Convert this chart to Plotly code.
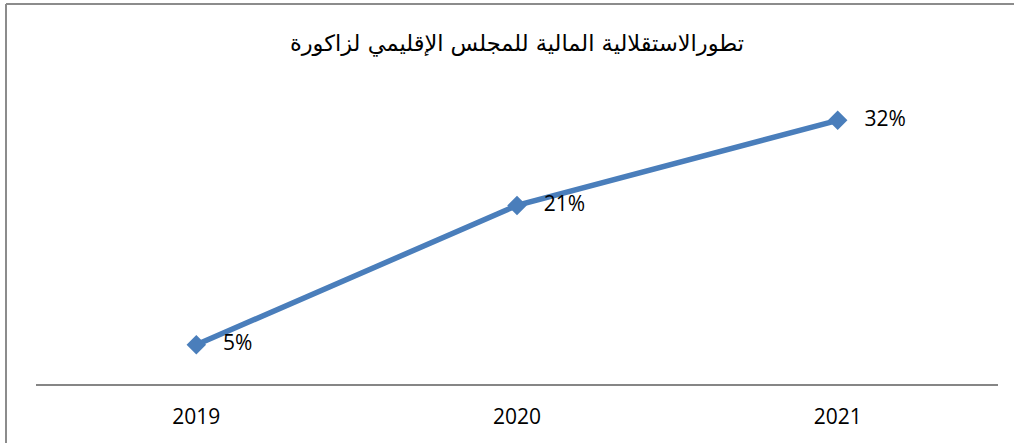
import plotly.graph_objects as go

years = ["2019", "2020", "2021"]
autonomy = [0.047, 0.214, 0.316]
labels = ["5%", "21%", "32%"]
title_text = "تطورالاستقلالية المالية للمجلس الإقليمي لزاكورة"

fig = go.Figure()
fig.add_trace(go.Scatter(
    x=years, y=autonomy, mode="lines+markers+text",
    line=dict(color="#4A7EBB", width=5.5),
    marker=dict(symbol="diamond", size=15, color="#4A7EBB"),
    text=["   " + t for t in labels], textposition="middle right",
    textfont=dict(family="Open Sans", size=21, color="#000000"),
    cliponaxis=False, showlegend=False, hoverinfo="skip",
))

frame_left = (6 - 36) / 962
frame_top = (384 - 4) / 292
fig.update_layout(
    width=1014, height=443,
    margin=dict(l=36, r=16, t=92, b=59),
    paper_bgcolor="white", plot_bgcolor="white",
    title=dict(text=title_text, x=0.5, xref="paper", y=1 - 43 / 443, yanchor="middle",
               font=dict(family="DejaVu Sans, Noto Sans", size=22.5, color="#000000")),
    xaxis=dict(type="category", range=[-0.5, 2.5], showgrid=False, zeroline=False,
               showline=True, linecolor="#868686", linewidth=2, ticks="",
               tickfont=dict(family="Open Sans", size=21, color="#000000"),
               ticklabelstandoff=13),
    yaxis=dict(range=[0, 0.35], visible=False),
    shapes=[
        dict(type="line", xref="paper", yref="paper", x0=frame_left, x1=1.1,
             y0=frame_top, y1=frame_top, line=dict(color="#8c8c8c", width=2), layer="below"),
        dict(type="line", xref="paper", yref="paper", x0=frame_left, x1=frame_left,
             y0=frame_top, y1=-0.5, line=dict(color="#8c8c8c", width=2), layer="below"),
    ],
)

fig.write_html("out.html", config={"displayModeBar": False},
               post_script="document.body.style.margin='0px';")
